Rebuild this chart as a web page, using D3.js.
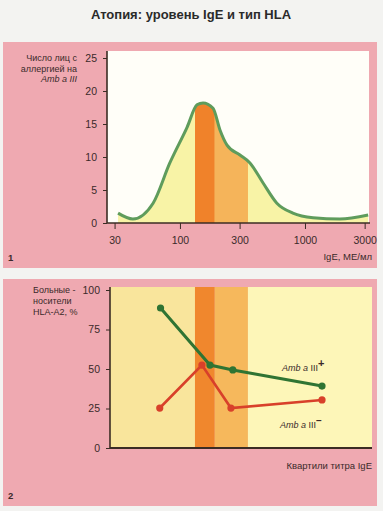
<!DOCTYPE html>
<html><head><meta charset="utf-8">
<script src="https://cdn.jsdelivr.net/npm/d3@7"></script>
<style>
html,body{margin:0;padding:0;background:#f3f3f1;}
svg{display:block;font-family:"Liberation Sans",Arial,sans-serif;}
</style></head><body>
<svg id="c" width="383" height="511"></svg>
<script>
// ---- data ----
const curveIgE   = [32, 42, 61, 83, 114, 137, 153, 184, 209, 238, 302, 363, 461, 596, 800, 1160, 1900, 3200];
const curveCount = [1.5, 0.6, 3.0, 9.1, 14.5, 17.9, 18.2, 17.4, 14.1, 11.8, 10.3, 9.1, 6.1, 3.0, 1.5, 0.8, 0.6, 1.2];
const xTicks1 = [30, 100, 300, 1000, 3000];
const yTicks1 = [0, 5, 10, 15, 20, 25];
const bandsIgE = [[27.6, 132], [132, 190], [190, 350], [350, 3440]];
const posIgEPlus  = [70, 174, 265, 1370];
const valPlus     = [88.6, 52.5, 49.4, 39.2];
const posIgEMinus = [69, 150, 256, 1370];
const valMinus    = [25.3, 52.5, 25.3, 30.4];
const yTicks2 = [0, 25, 50, 75, 100];

const svg = d3.select("#c");
const pink = "#efa9b1", axisCol = "#3b2c24", txt = "#3a2a2a";

// title
svg.append("text").attr("x", 191).attr("y", 19).attr("text-anchor", "middle")
  .attr("font-size", 13).attr("font-weight", "bold").attr("fill", "#2a2a2a")
  .text("Атопия: уровень IgE и тип HLA");

// ---------- panel 1 ----------
svg.append("rect").attr("x", 3).attr("y", 42).attr("width", 374).attr("height", 226).attr("fill", pink);
svg.append("rect").attr("x", 107).attr("y", 51).attr("width", 262).attr("height", 172).attr("fill", "#fffef8");

const x1 = d3.scaleLog().domain([26.1, 3311]).range([107, 370]);
const y1 = d3.scaleLinear().domain([0, 25]).range([223, 58]);
const pts = curveIgE.map((v, i) => [v, curveCount[i]]);
const area = d3.area().x(d => x1(d[0])).y0(y1(0)).y1(d => y1(d[1])).curve(d3.curveMonotoneX);
const line = d3.line().x(d => x1(d[0])).y(d => y1(d[1])).curve(d3.curveMonotoneX);

svg.append("clipPath").attr("id", "under").append("path").attr("d", area(pts));
const g1 = svg.append("g").attr("clip-path", "url(#under)");
g1.append("rect").attr("x", 100).attr("y", 40).attr("width", 280).attr("height", 190).attr("fill", "#f8f3a6");
g1.append("rect").attr("x", x1(bandsIgE[1][0])).attr("y", 40)
  .attr("width", x1(bandsIgE[1][1]) - x1(bandsIgE[1][0])).attr("height", 190).attr("fill", "#f0822a");
g1.append("rect").attr("x", x1(bandsIgE[2][0])).attr("y", 40)
  .attr("width", x1(bandsIgE[2][1]) - x1(bandsIgE[2][0])).attr("height", 190).attr("fill", "#f5b45a");
svg.append("path").attr("d", line(pts)).attr("fill", "none").attr("stroke", "#5f9c5c").attr("stroke-width", 3);

const ax1 = svg.append("g").attr("transform", "translate(0,223)")
  .call(d3.axisBottom(x1).tickValues(xTicks1).tickFormat(d3.format("d")).tickSize(6).tickPadding(8));
const ay1 = svg.append("g").attr("transform", "translate(107,0)")
  .call(d3.axisLeft(y1).tickValues(yTicks1).tickSize(4).tickPadding(6));
[ax1, ay1].forEach(a => {
  a.select(".domain").attr("stroke", axisCol).attr("stroke-width", 1.6);
  a.selectAll(".tick line").attr("stroke", axisCol);
  a.selectAll("text").attr("fill", txt).attr("font-size", 10.5).attr("font-family", "Liberation Sans, Arial");
});
ay1.select(".domain").attr("d", "M0,223V51");
ax1.select(".domain").attr("d", "M0,0H263").attr("transform", "translate(107,0)");

const yl = svg.append("text").attr("text-anchor", "end").attr("font-size", 9).attr("fill", txt);
yl.append("tspan").attr("x", 77).attr("y", 61).text("Число лиц с");
yl.append("tspan").attr("x", 77).attr("y", 71.5).text("аллергией на");
yl.append("tspan").attr("x", 77).attr("y", 82).attr("font-style", "italic").text("Amb a III");
svg.append("text").attr("x", 372).attr("y", 260).attr("text-anchor", "end").attr("font-size", 9.5).attr("fill", txt).text("IgE, МЕ/мл");
svg.append("text").attr("x", 8).attr("y", 261).attr("font-size", 9.5).attr("font-weight", "bold").attr("fill", txt).text("1");

// ---------- panel 2 ----------
svg.append("rect").attr("x", 3).attr("y", 279).attr("width", 374).attr("height", 227).attr("fill", pink);
const x2 = d3.scaleLog().domain([27.6, 3440]).range([110, 372]);
const y2 = d3.scaleLinear().domain([0, 100]).range([448, 290]);
const bandCols = ["#f9e59c", "#f0872d", "#f6b85c", "#fdf6b8"];
svg.append("g").selectAll("rect").data(bandsIgE).join("rect")
  .attr("x", d => x2(d[0])).attr("y", 287).attr("width", d => x2(d[1]) - x2(d[0])).attr("height", 161)
  .attr("fill", (d, i) => bandCols[i]);

const line2 = d3.line().x(d => x2(d[0])).y(d => y2(d[1]));
const plus = posIgEPlus.map((v, i) => [v, valPlus[i]]);
const minus = posIgEMinus.map((v, i) => [v, valMinus[i]]);
svg.append("path").attr("d", line2(minus)).attr("fill", "none").attr("stroke", "#d8402a").attr("stroke-width", 2.6);
svg.append("g").selectAll("circle").data(minus).join("circle")
  .attr("cx", d => x2(d[0])).attr("cy", d => y2(d[1])).attr("r", 3.6).attr("fill", "#d8402a");
svg.append("path").attr("d", line2(plus)).attr("fill", "none").attr("stroke", "#2f7433").attr("stroke-width", 3);
svg.append("g").selectAll("circle").data(plus).join("circle")
  .attr("cx", d => x2(d[0])).attr("cy", d => y2(d[1])).attr("r", 3.6).attr("fill", "#2f7433");

const ay2 = svg.append("g").attr("transform", "translate(110,0)")
  .call(d3.axisLeft(y2).tickValues(yTicks2).tickSize(4).tickPadding(6));
ay2.select(".domain").attr("d", "M0,448V287").attr("stroke", axisCol).attr("stroke-width", 1.6);
ay2.selectAll(".tick line").attr("stroke", axisCol);
ay2.selectAll("text").attr("fill", txt).attr("font-size", 10.5).attr("font-family", "Liberation Sans, Arial");
svg.append("line").attr("x1", 110).attr("x2", 372).attr("y1", 448).attr("y2", 448)
  .attr("stroke", axisCol).attr("stroke-width", 1.8);

const yl2 = svg.append("text").attr("font-size", 9).attr("fill", txt);
yl2.append("tspan").attr("x", 33).attr("y", 293).text("Больные -");
yl2.append("tspan").attr("x", 33).attr("y", 304).text("носители");
yl2.append("tspan").attr("x", 33).attr("y", 315).text("HLA-A2, %");

const lp = svg.append("text").attr("x", 282).attr("y", 371).attr("font-size", 9).attr("fill", txt);
lp.append("tspan").attr("font-style", "italic").text("Amb a ");
lp.append("tspan").text("III");
lp.append("tspan").attr("dy", -4).attr("font-size", 11).attr("font-weight", "bold").text("+");
const lm = svg.append("text").attr("x", 280).attr("y", 428).attr("font-size", 9).attr("fill", txt);
lm.append("tspan").attr("font-style", "italic").text("Amb a ");
lm.append("tspan").text("III");
lm.append("tspan").attr("dy", -4).attr("font-size", 10).attr("font-weight", "bold").text("–");

svg.append("text").attr("x", 372).attr("y", 469).attr("text-anchor", "end").attr("font-size", 9.5).attr("fill", txt).text("Квартили титра IgE");
svg.append("text").attr("x", 8).attr("y", 499).attr("font-size", 9.5).attr("font-weight", "bold").attr("fill", txt).text("2");
</script>
</body></html>
